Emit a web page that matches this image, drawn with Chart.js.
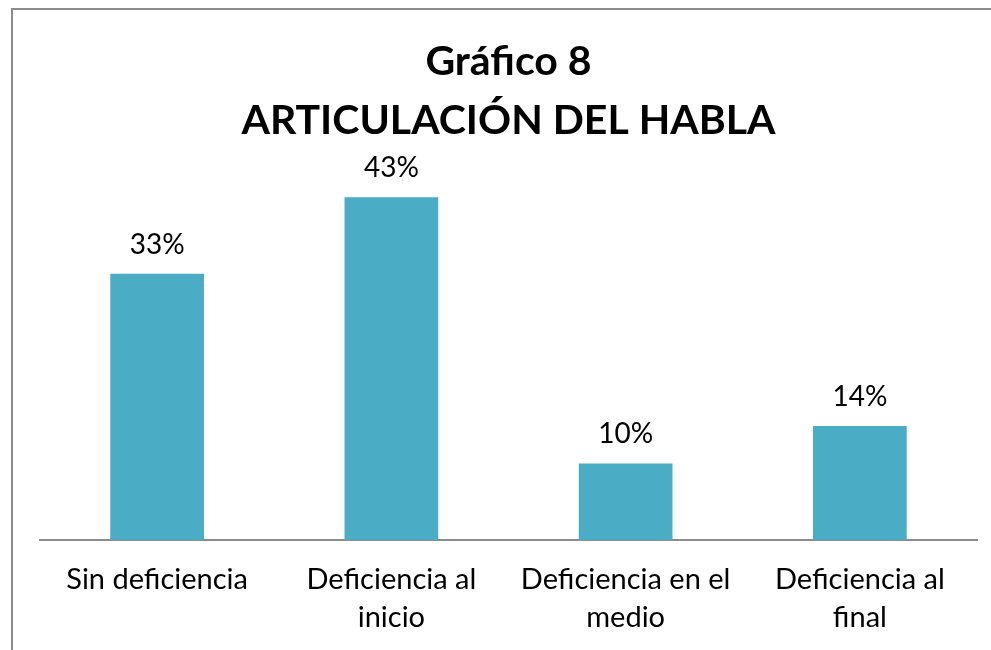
<!DOCTYPE html>
<html lang="es">
<head>
    <meta charset="UTF-8">
    <title>Gráfico 8 - Articulación del habla</title>
    <script src="https://cdn.jsdelivr.net/npm/chart.js"></script>
    <style>
        html, body { margin: 0; padding: 0; background: #fff; overflow: hidden; }
        #marco {
            position: absolute; left: 11px; top: 8px; width: 980px; height: 642px;
            border-top: 2px solid #8c8c8c; border-left: 2px solid #8c8c8c;
        }
        #wrap { position: absolute; left: 0; top: 0; width: 991px; height: 658px; }
    </style>
</head>
<body>
    <div id="marco"></div>
    <div id="wrap"><canvas id="grafico"></canvas></div>

    <script>
        // Datos (porcentajes)
        const categorias = [
            'Sin deficiencia',
            ['Deficiencia al', 'inicio'],
            ['Deficiencia en el', 'medio'],
            ['Deficiencia al', 'final']
        ];
        const porcentajes = [33.4, 43, 9.6, 14.3];

        // etiquetas encima de cada barra
        const etiquetasValor = {
            id: 'etiquetasValor',
            afterDatasetsDraw(chart) {
                const ctx = chart.ctx;
                const meta = chart.getDatasetMeta(0);
                ctx.save();
                ctx.font = '28px Lato';
                ctx.fillStyle = '#000';
                ctx.textAlign = 'center';
                ctx.textBaseline = 'alphabetic';
                meta.data.forEach((bar, i) => {
                    const v = chart.data.datasets[0].data[i];
                    ctx.fillText(Math.round(v) + '%', bar.x, bar.y - 20);
                });
                ctx.restore();
            }
        };

        const ctx = document.getElementById('grafico').getContext('2d');
        new Chart(ctx, {
            type: 'bar',
            data: {
                labels: categorias,
                datasets: [{
                    data: porcentajes,
                    backgroundColor: '#4BACC6',
                    barPercentage: 0.4,
                    categoryPercentage: 1
                }]
            },
            options: {
                responsive: true,
                maintainAspectRatio: false,
                animation: false,
                layout: { padding: { left: 40, right: 14, bottom: 0 } },
                plugins: {
                    legend: { display: false },
                    tooltip: { enabled: false },
                    title: {
                        display: true,
                        text: ['Gráfico 8', 'ARTICULACIÓN DEL HABLA'],
                        color: '#000',
                        font: { family: 'Lato', size: 41, weight: 'bold', lineHeight: 1.42 },
                        padding: { top: 33, bottom: 0 }
                    }
                },
                scales: {
                    x: {
                        grid: { display: false, drawTicks: false },
                        border: { display: true, color: '#8c8c8c', width: 2 },
                        ticks: {
                            color: '#000',
                            font: { family: 'Lato', size: 29, lineHeight: 1.31 },
                            padding: 21,
                            maxRotation: 0,
                            autoSkip: false
                        }
                    },
                    y: {
                        display: false,
                        min: 0,
                        max: 49
                    }
                }
            },
            plugins: [etiquetasValor]
        });
    </script>
</body>
</html>
